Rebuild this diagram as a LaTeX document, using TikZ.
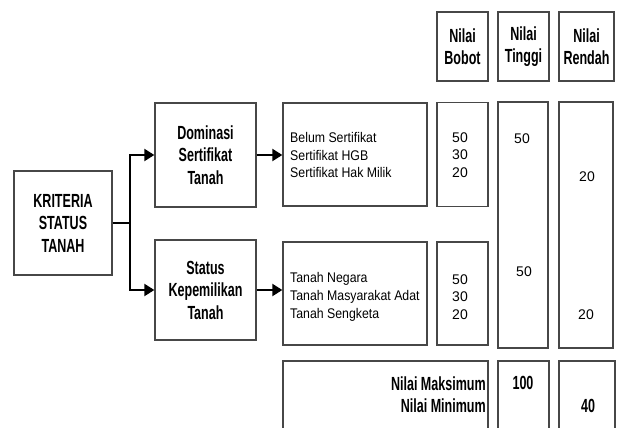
\documentclass[tikz,border=0pt]{standalone}
\usepackage{fontspec}
\setmainfont{Liberation Sans}
\newfontfamily\condbold[FakeStretch=0.66]{Liberation Sans}
\newfontfamily\condreg[FakeStretch=0.88]{Liberation Sans}
\usetikzlibrary{arrows.meta}
\begin{document}
\begin{tikzpicture}[x=1pt,y=-1pt,
  box/.style={draw=black!72, line width=1.3pt, inner sep=0pt, fill=white},
  bl/.style={font=\condbold\bfseries\fontsize{19}{22.5}\selectfont, align=center},
  rl/.style={font=\condreg\fontsize{14}{17.7}\selectfont, align=left, inner sep=0pt},
  num/.style={font=\fontsize{14}{17.7}\selectfont, inner sep=0pt},
  arr/.style={line width=2pt, -{Triangle[length=10pt,width=12pt]}},
  ln/.style={line width=2pt}]
\useasboundingbox (0,0) rectangle (618,428);
\clip (0,0) rectangle (618,428);
\fill[white] (0,0) rectangle (618,428);
% header boxes
\node[box, bl, minimum width=51pt, minimum height=69pt] (hbob) at (462.5,46.5) {Nilai\\Bobot};
\node[box, bl, minimum width=51pt, minimum height=69pt] (htin) at (523.5,46.5) {Nilai\\Tinggi};
\node[box, bl, minimum width=55pt, minimum height=69pt] (hren) at (586.5,46.5) {Nilai\\Rendah};
% left boxes
\node[box, bl, minimum width=98pt, minimum height=104pt] (krit) at (63,223) {KRITERIA\\STATUS\\TANAH};
\node[box, bl, minimum width=101pt, minimum height=104pt] (dom) at (205.5,155) {Dominasi\\Sertifikat\\Tanah};
\node[box, bl, minimum width=101pt, minimum height=100pt] (stat) at (205.5,290) {Status\\Kepemilikan\\Tanah};
% list boxes
\node[box, minimum width=144pt, minimum height=103pt] (list1) at (355,154.5) {};
\node[box, minimum width=144pt, minimum height=103pt] (list2) at (355,293.5) {};
\node[rl, anchor=west] (l1t) at (290,155) {Belum Sertifikat\\Sertifikat HGB\\Sertifikat Hak Milik};
\node[rl, anchor=west] (l2t) at (290,297) {Tanah Negara\\Tanah Masyarakat Adat\\Tanah Sengketa};
% bobot boxes
\node[box, minimum width=51pt, minimum height=104pt] (bob1) at (462.5,154.5) {};
\node[box, minimum width=51pt, minimum height=103pt] (bob2) at (462.5,293.5) {};
\node[num, align=center] (b1t) at (460,155) {50\\30\\20};
\node[num, align=center] (b2t) at (460,297) {50\\30\\20};
% tinggi and rendah columns
\node[box, minimum width=50pt, minimum height=246pt] (tin) at (523,225) {};
\node[box, minimum width=54pt, minimum height=246pt] (ren) at (586,225) {};
\node[num] (t1) at (522,139) {50};
\node[num] (t2) at (524,272) {50};
\node[num] (r1) at (587,177) {20};
\node[num] (r2) at (586,315) {20};
% bottom boxes
\node[box, minimum width=205pt, minimum height=90pt] (maks) at (385.5,406) {};
\node[box, minimum width=51pt, minimum height=90pt] (tmax) at (523.5,406) {};
\node[box, minimum width=56pt, minimum height=90pt] (rmin) at (587,406) {};
\node[bl, align=right, anchor=east, inner sep=0pt] (mmtext) at (486,394.5) {Nilai Maksimum\\Nilai Minimum};
\node[bl, inner sep=0pt] (v100) at (523,383) {100};
\node[bl, inner sep=0pt] (v40) at (588,406) {40};
% connectors
\draw[ln] (krit.east) -- (130,223) coordinate (j);
\draw[arr] (j) |- (dom.west);
\draw[arr] (j) |- (stat.west);
\draw[arr] (dom.east) -- (list1.west |- dom.east);
\draw[arr] (stat.east) -- (list2.west |- stat.east);
\end{tikzpicture}
\end{document}
